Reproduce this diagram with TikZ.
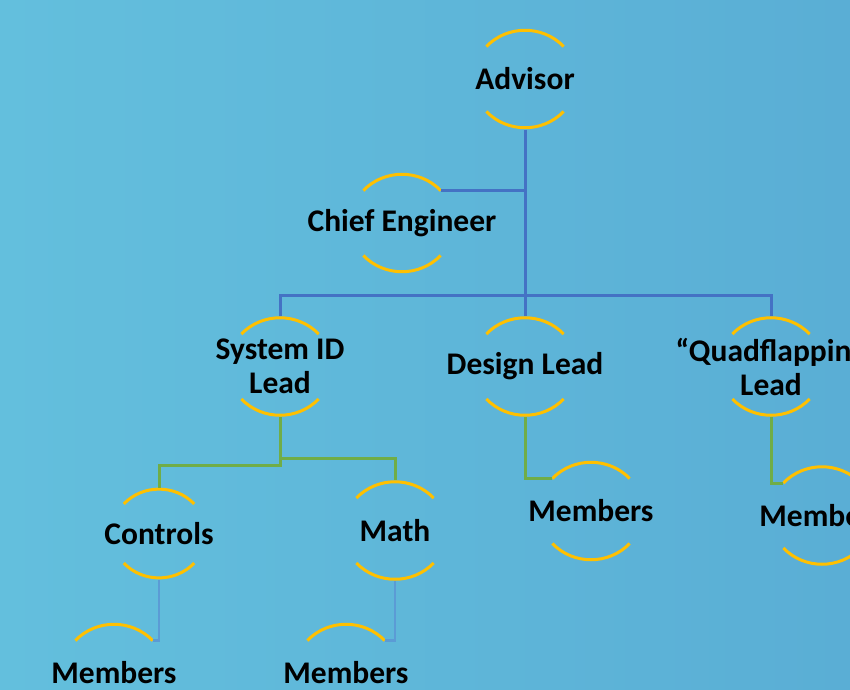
\documentclass[tikz,border=0pt]{standalone}
\usepackage{fontspec}
\setmainfont{Carlito}
\begin{document}
\begin{tikzpicture}[x=1pt,y=-1pt,
  ring/.style={circle,draw=none,inner sep=0pt,outer sep=0pt,minimum size=#1},
  ring/.default=101pt,
  lbl/.style={text=black,font=\fontsize{31.5}{34}\selectfont\bfseries,align=center,inner sep=0pt},
  halo/.style={draw=gold,line width=3pt},
  busline/.style={draw=darkline,line width=3pt},
  teamline/.style={draw=grnline,line width=3pt},
  memline/.style={draw=lightline,line width=2.6pt}]
\definecolor{gold}{HTML}{FFC000}
\definecolor{darkline}{HTML}{4472C4}
\definecolor{grnline}{HTML}{70AD47}
\definecolor{lightline}{HTML}{5B9BD5}
\definecolor{bgL}{HTML}{63BFDD}
\definecolor{bgR}{HTML}{5AAED5}
\useasboundingbox (0,0) rectangle (850,689);
\shade[left color=bgL,right color=bgR] (0,0) rectangle (850,689);

% ring outlines (invisible circles carry the anchors)
\node[ring] (adv)  at (525,79)  {};
\node[ring] (ce)   at (402,223) {};
\node[ring] (sys)  at (280,366.5) {};
\node[ring] (des)  at (525,366.5) {};
\node[ring] (quad) at (771,366.5) {};
\node[ring=92pt] (ctl) at (159,533.5) {};
\node[ring] (math) at (395,530.5) {};
\node[ring] (dmem) at (591,511) {};
\node[ring] (qmem) at (822,515.5) {};
\node[ring] (m1)   at (114,673) {};
\node[ring] (m2)   at (346,673) {};

% labels
\node[lbl] (advT)  at (adv)  {Advisor};
\node[lbl] (ceT)   at (ce)   {Chief Engineer};
\node[lbl] (sysT)  at (sys)  {System ID\\Lead};
\node[lbl] (desT)  at (des)  {Design Lead};
\node[lbl] (quadT) at (quad) {“Quadflapping\\Lead};
\node[lbl] (ctlT)  at (ctl)  {Controls};
\node[lbl] (mathT) at (math) {Math};
\node[lbl] (dmemT) at (dmem) {Members};
\node[lbl] (qmemT) at (qmem) {Members};
\node[lbl] (m1T)   at (m1)   {Members};
\node[lbl] (m2T)   at (m2)   {Members};

% gold half-rings above and below each label
\foreach \n in {adv,ce,sys,des,quad,ctl,math,dmem,qmem,m1,m2}{
  \draw[halo] (\n.40) to[bend right=46] (\n.140);
  \draw[halo] (\n.220) to[bend right=46] (\n.320);
}

% junction points
\coordinate (bus) at (525,295);
\coordinate (gjR) at (280,458);
\coordinate (gjL) at (280,465);

% leadership connectors
\draw[busline] (adv.south) -- (des.north);
\draw[busline] (ce.40) -- (ce.40 -| adv.south);
\draw[busline] (sys.north) |- (bus) -| (quad.north);

% team connectors
\draw[teamline] (sys.south) -- (gjR) -| (math.north);
\draw[teamline] (sys.south) -- (gjL) -| (ctl.north);
\draw[teamline] (des.south) |- (dmem.140);
\draw[teamline] (quad.south) |- (qmem.140);

% member connectors
\draw[memline] (ctl.south) |- (m1.40);
\draw[memline] (math.south) |- (m2.40);
\end{tikzpicture}
\end{document}
